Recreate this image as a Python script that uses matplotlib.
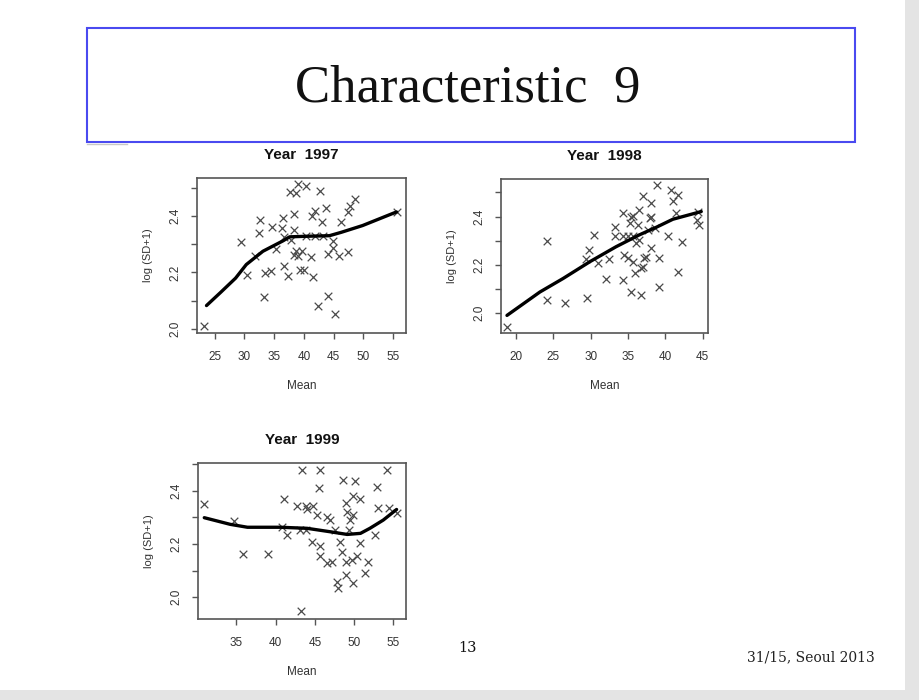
import matplotlib.pyplot as plt
from matplotlib.patches import Rectangle
from matplotlib.lines import Line2D

# slide size in pixels
W, H = 920, 700

# ---- Year 1997 ----
mean_1997 = [23.1, 29.4, 30.5, 31.7, 32.5, 32.6, 33.3, 33.4, 34.4, 34.6, 35.3, 36.3,
             36.5, 36.6, 37.3, 37.6, 38.7, 39.0, 40.4, 42.65, 38.4, 37.9, 38.4, 38.4,
             38.7, 39.0, 39.4, 40.1, 41.6, 40.4, 41.8, 41.25, 39.6, 41.8, 41.4, 43.7,
             43.1, 46.3, 47.4, 47.7, 48.6, 44.05, 44.9, 45.9, 47.4, 44.9, 44.05, 42.4,
             45.2, 55.7, 36.7, 43.2]
sd_1997 = [2.012, 2.309, 2.19, 2.26, 2.34, 2.387, 2.115, 2.198, 2.204, 2.361, 2.283, 2.357,
           2.393, 2.222, 2.189, 2.484, 2.481, 2.514, 2.505, 2.487, 2.405, 2.316, 2.35, 2.263,
           2.275, 2.257, 2.21, 2.21, 2.184, 2.33, 2.33, 2.255, 2.275, 2.416, 2.399, 2.428,
           2.377, 2.377, 2.413, 2.434, 2.46, 2.267, 2.287, 2.257, 2.271, 2.31, 2.118, 2.08,
           2.054, 2.414, 2.326, 2.33]
curve_x_1997 = [23.6, 26.0, 28.5, 30.3, 33.1, 36.5, 37.6, 40.4, 44.3, 46.3, 49.9, 55.6]
curve_y_1997 = [2.083, 2.13, 2.18, 2.228, 2.275, 2.312, 2.326, 2.328, 2.33, 2.342, 2.366, 2.414]

# ---- Year 1998 ----
mean_1998 = [18.8, 24.2, 24.1, 26.5, 29.5, 29.4, 29.8, 30.5, 30.95, 32.1, 32.5, 33.2,
             33.2, 34.3, 34.95, 35.6, 34.3, 35.4, 34.3, 34.95, 35.6, 35.9, 35.4, 36.8,
             36.5, 37.0, 38.1, 38.9, 37.9, 38.55, 37.2, 37.0, 38.1, 39.2, 39.2, 40.3,
             40.8, 41.7, 41.0, 41.45, 42.2, 41.7, 44.3, 44.2, 44.5, 36.1, 36.5, 36.3,
             35.2, 37.7, 38.1, 34.5, 35.7, 36.8, 37.4]
sd_1998 = [1.943, 2.3, 2.055, 2.042, 2.062, 2.226, 2.261, 2.324, 2.206, 2.143, 2.226, 2.358,
           2.32, 2.32, 2.32, 2.32, 2.414, 2.4, 2.136, 2.227, 2.213, 2.167, 2.088, 2.074,
           2.428, 2.486, 2.456, 2.532, 2.393, 2.352, 2.227, 2.19, 2.268, 2.227, 2.106, 2.32,
           2.511, 2.49, 2.463, 2.414, 2.296, 2.171, 2.417, 2.386, 2.365, 2.289, 2.303, 2.365,
           2.372, 2.344, 2.4, 2.24, 2.403, 2.185, 2.233]
curve_x_1998 = [18.8, 23.2, 26.3, 29.9, 33.4, 36.5, 38.8, 41.0, 44.8]
curve_y_1998 = [1.99, 2.087, 2.143, 2.213, 2.275, 2.324, 2.356, 2.389, 2.421]

# ---- Year 1999 ----
mean_1999 = [30.9, 34.7, 35.8, 39.0, 41.1, 41.4, 40.8, 43.3, 43.2, 42.7, 43.8, 44.8,
             44.0, 43.1, 43.8, 44.6, 45.5, 45.7, 45.25, 45.6, 45.7, 46.5, 46.95, 47.2,
             46.5, 47.8, 48.0, 48.6, 48.9, 49.1, 49.3, 48.9, 48.9, 49.5, 50.1, 49.8,
             50.8, 49.9, 49.9, 49.7, 50.3, 50.8, 51.4, 51.8, 52.6, 52.9, 53.0, 54.2,
             54.4, 55.4, 47.6, 48.2, 48.4]
sd_1999 = [2.35, 2.288, 2.163, 2.163, 2.369, 2.234, 2.265, 2.478, 1.946, 2.343, 2.343, 2.343,
           2.33, 2.253, 2.253, 2.209, 2.409, 2.478, 2.309, 2.193, 2.153, 2.3, 2.29, 2.134,
           2.128, 2.055, 2.034, 2.44, 2.353, 2.321, 2.253, 2.134, 2.084, 2.29, 2.436, 2.38,
           2.371, 2.309, 2.053, 2.14, 2.153, 2.203, 2.09, 2.134, 2.234, 2.415, 2.334, 2.48,
           2.334, 2.318, 2.253, 2.209, 2.171]
curve_x_1999 = [30.9, 34.2, 36.4, 40.6, 44.0, 46.95, 49.1, 50.8, 52.0, 53.7, 55.4]
curve_y_1999 = [2.299, 2.274, 2.263, 2.263, 2.259, 2.246, 2.236, 2.24, 2.259, 2.29, 2.33]

y_ticks = [2.0, 2.1, 2.2, 2.3, 2.4, 2.5]
y_tick_labels = ['2.0', '', '2.2', '', '2.4', '']

INK = '#333333'


def px_rect(x0, y0, x1, y1):
    """pixel box (top-left origin) -> figure fraction [left, bottom, w, h]"""
    return [x0 / W, 1 - y1 / H, (x1 - x0) / W, (y1 - y0) / H]


def draw_panel(fig, rect, mean, sd, cx, cy, xlim, ylim, xticks, title):
    ax = fig.add_axes(rect)
    ax.scatter(mean, sd, marker='x', s=30, c='#4a4a4a', linewidths=0.9, zorder=2)
    ax.plot(cx, cy, color='black', lw=2.4, solid_capstyle='round', zorder=3)
    ax.set_xlim(*xlim)
    ax.set_ylim(*ylim)
    ax.set_xticks(xticks)
    ax.set_yticks(y_ticks)
    ax.set_yticklabels(y_tick_labels, rotation=90, va='center')
    ax.tick_params(axis='both', direction='out', length=4, width=1.0,
                   color='#555555', labelcolor=INK, labelsize=8.5)
    ax.tick_params(axis='x', pad=9)
    ax.tick_params(axis='y', pad=7)
    for s in ax.spines.values():
        s.set_color('#555555')
        s.set_linewidth(1.2)
    ax.set_title(title, fontsize=11, fontweight='bold', color='#111111', pad=14)
    ax.set_xlabel('Mean', fontsize=8.5, color=INK, labelpad=12)
    ax.set_ylabel('log (SD+1)', fontsize=8, color=INK, labelpad=12)
    return ax


plt.rcParams['font.family'] = ['Liberation Sans', 'DejaVu Sans']

fig = plt.figure(figsize=(9.2, 7), dpi=100)

# slide edge shadow
fig.patches.append(Rectangle((0, 0), 1, 1, transform=fig.transFigure,
                             facecolor='#e4e4e4', edgecolor='none', zorder=-3))
fig.patches.append(Rectangle((0, 1 - 690 / H), 905 / W, 690 / H, transform=fig.transFigure,
                             facecolor='white', edgecolor='none', zorder=-2))

# title box
fig.patches.append(Rectangle((87 / W, 1 - 142 / H), (855 - 87) / W, (142 - 28) / H,
                             transform=fig.transFigure, facecolor='white',
                             edgecolor='#4a4af0', linewidth=1.5, zorder=1))
fig.lines.append(Line2D([87 / W, 127 / W], [1 - 144 / H, 1 - 144 / H],
                        transform=fig.transFigure, color='#c8c8c8', lw=1))
fig.text(468 / W, 1 - 88 / H, 'Characteristic  9', family='Liberation Serif',
         fontsize=38, ha='center', va='center', color='#111111', zorder=2)

draw_panel(fig, px_rect(197, 178, 406, 333), mean_1997, sd_1997,
           curve_x_1997, curve_y_1997, (22.0, 57.2), (1.986, 2.534),
           [25, 30, 35, 40, 45, 50, 55], 'Year  1997')
draw_panel(fig, px_rect(501, 179, 708, 333), mean_1998, sd_1998,
           curve_x_1998, curve_y_1998, (18.0, 45.7), (1.917, 2.556),
           [20, 25, 30, 35, 40, 45], 'Year  1998')
draw_panel(fig, px_rect(198, 463, 406, 619), mean_1999, sd_1999,
           curve_x_1999, curve_y_1999, (30.1, 56.6), (1.9175, 2.505),
           [35, 40, 45, 50, 55], 'Year  1999')

# footer
fig.text(468 / W, 1 - 648 / H, '13', family='DejaVu Serif', fontsize=10.5,
         ha='center', va='center', color='#111111')
fig.text(875 / W, 1 - 657 / H, '31/15, Seoul 2013', family='DejaVu Serif',
         fontsize=10, ha='right', va='center', color='#222222')

fig.savefig('out.png', dpi=100)
